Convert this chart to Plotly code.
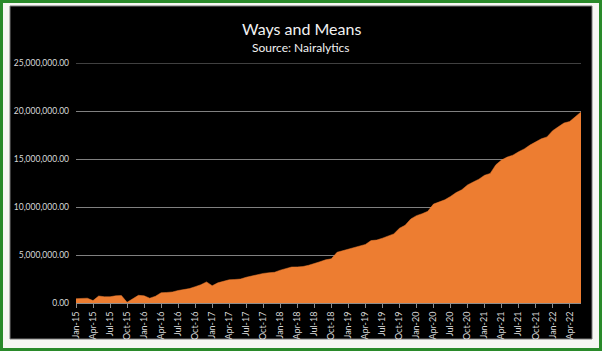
import plotly.graph_objects as go

months = ["Jan", "Feb", "Mar", "Apr", "May", "Jun", "Jul", "Aug", "Sep", "Oct", "Nov", "Dec"]
categories = [f"{m}-{y:02d}" for y in range(15, 23) for m in months][:90]

values_millions = [
    0.45, 0.45, 0.50, 0.25, 0.73, 0.65, 0.65, 0.75, 0.78, 0.07, 0.45, 0.80,
    0.75, 0.50, 0.70, 1.07, 1.10, 1.15, 1.30, 1.40, 1.50, 1.70, 1.90, 2.20,
    1.80, 2.10, 2.30, 2.42, 2.45, 2.50, 2.68, 2.82, 2.98, 3.08, 3.15, 3.20,
    3.42, 3.60, 3.75, 3.76, 3.80, 3.93, 4.15, 4.30, 4.50, 4.60, 5.28, 5.45,
    5.59, 5.75, 5.90, 6.10, 6.50, 6.56, 6.75, 6.94, 7.20, 7.78, 8.10, 8.75,
    9.10, 9.30, 9.55, 10.30, 10.50, 10.75, 11.10, 11.50, 11.80, 12.30, 12.60, 12.90,
    13.30, 13.50, 14.40, 14.90, 15.20, 15.40, 15.75, 16.05, 16.45, 16.80, 17.10, 17.30,
    17.95, 18.35, 18.75, 18.90, 19.40, 19.90,
]
values = [v * 1_000_000 for v in values_millions]

tick_labels = categories[::3]
y_ticks = [0, 5_000_000, 10_000_000, 15_000_000, 20_000_000, 25_000_000]
y_max = y_ticks[-1]

W, H = 602, 351
L, R, T, B = 76, 21, 63, 48
PW, PH = W - L - R, H - T - B

def px_x(p):
    return (p - L) / PW

def px_y(p):
    return (H - B - p) / PH

fig = go.Figure()
fig.add_trace(go.Scatter(
    x=categories, y=values, mode="lines",
    line=dict(color="#ED7D31", width=0.5),
    fill="tozeroy", fillcolor="#ED7D31",
    hoverinfo="x+y",
))

fig.update_layout(
    width=W, height=H,
    margin=dict(l=L, r=R, t=T, b=B),
    paper_bgcolor="#f7f7f3",
    plot_bgcolor="#000000",
    showlegend=False,
    font=dict(family="Lato, Carlito, sans-serif", color="#d9d9d9", size=9),
    shapes=[
        dict(type="rect", xref="paper", yref="paper",
             x0=px_x(10), x1=px_x(592), y0=px_y(339), y1=px_y(6),
             fillcolor="#000000", line=dict(color="#7a7a7a", width=1), layer="below"),
        dict(type="rect", xref="paper", yref="paper",
             x0=px_x(1.5), x1=px_x(600.5), y0=px_y(349.5), y1=px_y(1.5),
             fillcolor="rgba(0,0,0,0)", line=dict(color="#2a8a2a", width=3), layer="below"),
        dict(type="line", xref="paper", yref="y",
             x0=0, x1=1, y0=y_max, y1=y_max,
             line=dict(color="#808080", width=1), layer="above"),
    ],
    annotations=[
        dict(text="Ways and Means", xref="paper", yref="paper",
             x=px_x(301), y=px_y(28), xanchor="center", yanchor="middle",
             showarrow=False, font=dict(size=16, color="#f2f2f2")),
        dict(text="Source: Nairalytics", xref="paper", yref="paper",
             x=px_x(301), y=px_y(47), xanchor="center", yanchor="middle",
             showarrow=False, font=dict(size=12, color="#f2f2f2")),
    ],
)

fig.update_xaxes(
    type="category", range=[0, len(categories) - 1],
    tickmode="array", tickvals=tick_labels, ticktext=tick_labels,
    tickangle=-90, ticks="outside", ticklen=4, tickcolor="#8c8c8c",
    showline=True, linecolor="#8c8c8c", linewidth=1,
    showgrid=False, tickfont=dict(size=9, color="#d9d9d9"),
)
fig.update_yaxes(
    range=[0, y_max], tickvals=y_ticks, tickformat=",.2f",
    showgrid=True, gridcolor="#808080", gridwidth=1,
    zeroline=False, showline=False, ticks="",
    ticklabelstandoff=6,
    tickfont=dict(size=8.5, color="#d9d9d9"),
)

fig.write_html("out.html")
